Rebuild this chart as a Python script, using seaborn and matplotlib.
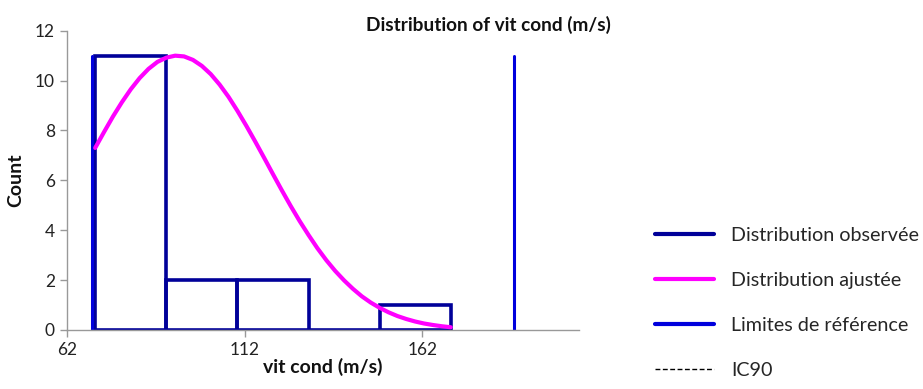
import numpy as np
import pandas as pd
import matplotlib
matplotlib.use("Agg")
import matplotlib.pyplot as plt
import seaborn as sns
from matplotlib.lines import Line2D

sns.set_theme(style="white")
plt.rcParams['font.family'] = ['Lato', 'DejaVu Sans']

# Data
bin_edges = [70, 90, 110, 130, 150, 170]
bin_counts = [11, 2, 2, 0, 1]
bin_centers = [80, 100, 120, 140, 160]

fit_x = [70, 72.5, 75, 77.5, 80, 82.5, 85, 87.5, 90, 92.5, 95, 97.5, 100, 102.5,
         105, 107.5, 110, 112.5, 115, 117.5, 120, 122.5, 125, 127.5, 130, 132.5,
         135, 137.5, 140, 142.5, 145, 147.5, 150, 152.5, 155, 157.5, 160, 162.5,
         165, 167.5, 170]
fit_y = [7.30, 7.94, 8.56, 9.13, 9.65, 10.10, 10.47, 10.75, 10.92, 11.00, 10.97,
         10.83, 10.59, 10.26, 9.84, 9.35, 8.79, 8.19, 7.56, 6.91, 6.25, 5.60, 4.97,
         4.37, 3.81, 3.28, 2.80, 2.37, 1.99, 1.65, 1.35, 1.10, 0.89, 0.71, 0.56,
         0.44, 0.34, 0.26, 0.20, 0.15, 0.11]

ref_limits = [69.1, 187.9]
ref_height = 11

x_ticks = [62, 112, 162]
y_ticks = [0, 2, 4, 6, 8, 10, 12]

navy = "#000099"
magenta = "#FF00FF"
blue = "#0000DD"

fig = plt.figure(figsize=(9.23, 3.89), dpi=100)
ax = fig.add_axes([0.0723, 0.1517, 0.627 - 0.0723, 0.921 - 0.1517])

hist_df = pd.DataFrame({"x": bin_centers, "w": bin_counts})
sns.histplot(data=hist_df, x="x", weights="w", bins=bin_edges, element="bars",
             fill=False, color=navy, linewidth=2.6, ax=ax)

for xr in ref_limits:
    sns.lineplot(x=[xr, xr], y=[0, ref_height], color=blue, linewidth=2.2,
                 estimator=None, sort=False, ax=ax)

sns.lineplot(x=fit_x, y=fit_y, color=magenta, linewidth=3, ax=ax, zorder=5,
             estimator=None, solid_joinstyle="round", solid_capstyle="round")

ax.set_xlim(62, 206)
ax.set_ylim(0, 12)
ax.set_xticks(x_ticks)
ax.set_yticks(y_ticks)
ax.tick_params(axis="both", labelsize=12.5, colors="#999999", labelcolor="#222222",
               length=5, width=1, direction="out", bottom=True, left=True)
for side in ["top", "right"]:
    ax.spines[side].set_visible(False)
for side in ["left", "bottom"]:
    ax.spines[side].set_color("#999999")
    ax.spines[side].set_linewidth(1)

ax.set_xlabel("vit cond (m/s)", fontsize=14, fontweight="bold", labelpad=0, color="#111111")
ax.set_ylabel("Count", fontsize=14, fontweight="bold", labelpad=8, color="#111111")

fig.text(0.529, 0.936, "Distribution of vit cond (m/s)", fontsize=13.7, fontweight="bold",
         ha="center", va="center", color="#111111")

handles = [
    Line2D([], [], color=navy, linewidth=3),
    Line2D([], [], color=magenta, linewidth=3),
    Line2D([], [], color=blue, linewidth=3),
    Line2D([], [], color="black", linewidth=1, linestyle=(0, (3.5, 1.8))),
]
labels = ["Distribution observée", "Distribution ajustée", "Limites de référence", "IC90"]
fig.legend(handles, labels, loc="center left", bbox_to_anchor=(0.7097, 0.222),
           frameon=False, fontsize=14.2, handlelength=3.0, handletextpad=0.86,
           labelspacing=1.42, borderpad=0, borderaxespad=0)

fig.savefig("out.png", dpi=100)
